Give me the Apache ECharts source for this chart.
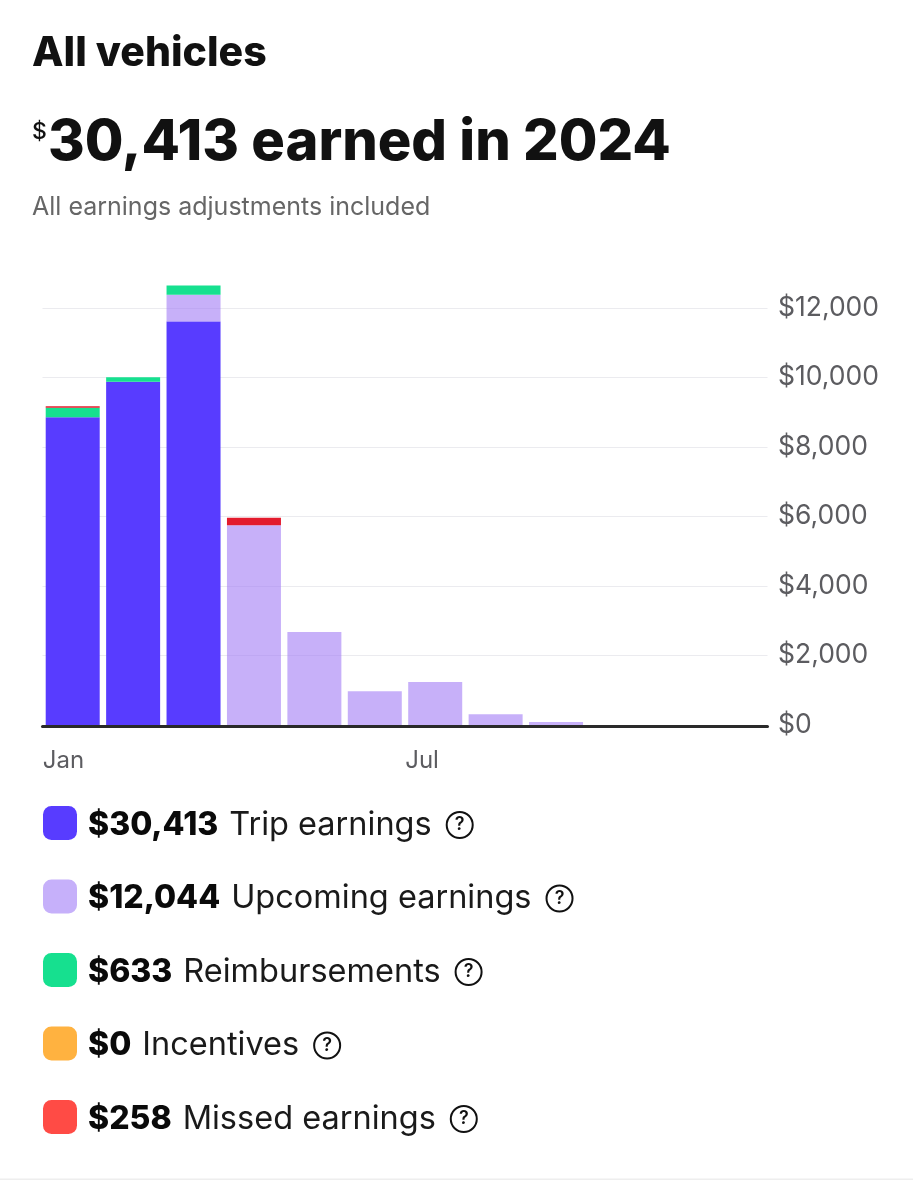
<!DOCTYPE html>
<html><head><meta charset="utf-8">
<style>html,body{margin:0;padding:0;background:#fff}#c{width:913px;height:1200px}</style>
<script src="https://cdn.jsdelivr.net/npm/echarts@6/dist/echarts.min.js"></script>
</head><body><div id="c"></div>
<script>
const months = ['Jan','Feb','Mar','Apr','May','Jun','Jul','Aug','Sep','Oct','Nov','Dec'];
const tripEarnings     = [8855, 9880, 11615, 0, 0, 0, 0, 0, 0, 0, 0, 0];
const upcomingEarnings = [0, 0, 765, 5745, 2675, 970, 1240, 308, 85, 0, 0, 0];
const reimbursements   = [275, 125, 270, 0, 0, 0, 0, 0, 0, 0, 0, 0];
const incentives       = [0, 0, 0, 0, 0, 0, 0, 0, 0, 0, 0, 0];
const missedEarnings   = [40, 0, 0, 220, 0, 0, 0, 0, 0, 0, 0, 0];
const legendNames  = ['Trip earnings','Upcoming earnings','Reimbursements','Incentives','Missed earnings'];
const legendTotals = ['$30,413','$12,044','$633','$0','$258'];
const FONT = 'Inter';
const seriesData = [tripEarnings, upcomingEarnings, reimbursements, incentives, missedEarnings];
const barColors = ['#583CFF','rgba(165,127,245,0.62)','#16E08F','#FFB240','#E31B2D'];
const swatchColors = ['#583CFF','#C6B0FA','#16E08F','#FFB240','#FF4B45'];
const chart = echarts.init(document.getElementById('c'));
chart.setOption({
  animation:false,
  textStyle:{fontFamily:FONT},
  grid:{left:42.5,top:273.25,width:725,height:451.75,containLabel:false},
  xAxis:{type:'category',data:months,offset:1.5,
    axisLine:{show:true,onZero:false,lineStyle:{color:'#2a2a2a',width:3}},
    axisTick:{show:false},
    axisLabel:{interval:5,align:'left',padding:[0,0,0,-30],margin:22,color:'#5c5c60',fontSize:24,fontFamily:FONT}},
  yAxis:{type:'value',position:'right',min:0,max:13000,interval:2000,
    axisLine:{show:false},axisTick:{show:false},
    splitLine:{show:true,showMaxLine:false,lineStyle:{color:'#ebebef',width:1}},
    axisLabel:{showMaxLabel:false,margin:10.5,color:'#5c5c60',fontSize:26.5,fontFamily:FONT,
      formatter:v=>'$'+v.toLocaleString('en-US')}},
  legend:{orient:'vertical',left:38,top:801,itemWidth:34,itemHeight:34,itemGap:38,icon:'roundRect',selectedMode:false,
    data:legendNames.map((n,i)=>({name:n,itemStyle:{color:swatchColors[i]}})),
    formatter:n=>{const i=legendNames.indexOf(n);return `{v|${legendTotals[i]}}{n|${n}}{h|?}`;},
    textStyle:{padding:[4,0,0,6],rich:{
      v:{fontSize:32,fontWeight:800,color:'#0a0a0a',fontFamily:FONT},
      n:{fontSize:32.5,color:'#1a1a1a',fontFamily:FONT,padding:[0,15,0,11]},
      h:{fontSize:18,fontWeight:600,color:'#111',width:26,height:26,lineHeight:26,align:'center',borderRadius:15,borderWidth:2,borderColor:'#111',fontFamily:FONT}
    }}},
  series:legendNames.map((n,i)=>({name:n,type:'bar',stack:'total',barWidth:54,data:seriesData[i],itemStyle:{color:barColors[i]}})),
  graphic:[
    {type:'text',left:32,top:33,style:{text:'All vehicles',font:'800 41px '+FONT,fill:'#111'}},
    {type:'text',left:32,top:121,style:{text:'$',font:'500 23px '+FONT,fill:'#111'}},
    {type:'text',left:48,top:115,style:{text:'30,413 earned in 2024',font:'800 56px '+FONT,fill:'#111'}},
    {type:'text',left:32,top:195,style:{text:'All earnings adjustments included',font:'400 25px '+FONT,fill:'#666'}},
    {type:'rect',shape:{x:0,y:1178.5,width:913,height:1.5},style:{fill:'#eeeeee'}}
  ]
});
</script></body></html>
